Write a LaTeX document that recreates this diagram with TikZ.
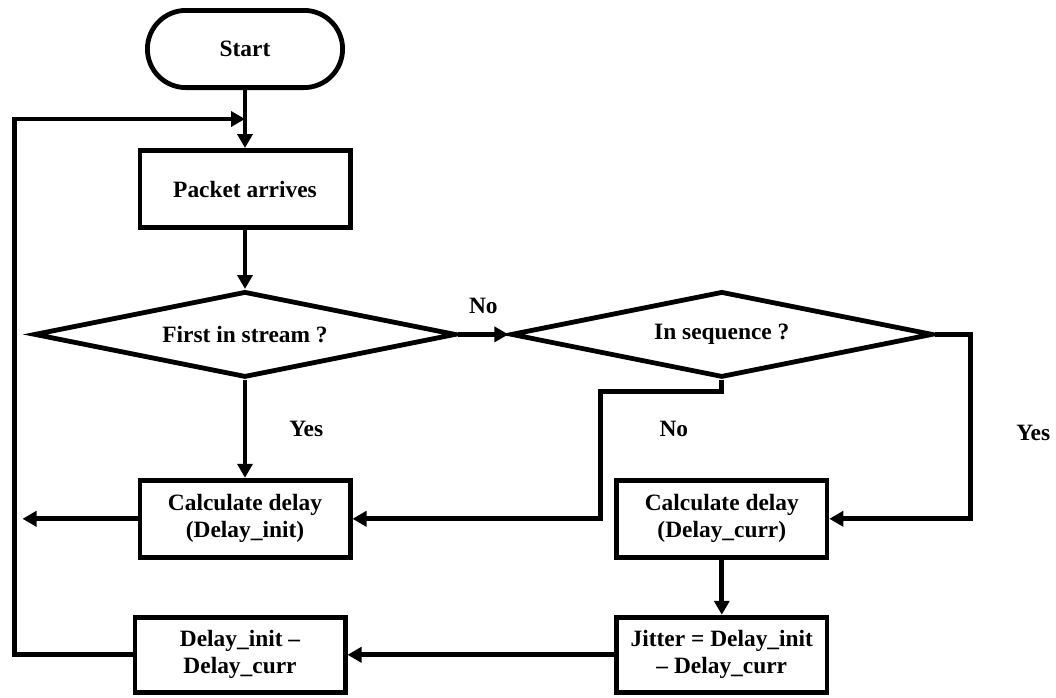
\documentclass[tikz,border=0pt]{standalone}
\usepackage{fontspec}
\setmainfont{Liberation Serif}
\usepackage{tikz}
\usetikzlibrary{arrows.meta,positioning,shapes.geometric,calc}

\begin{document}
\begin{tikzpicture}[font=\bfseries\fontsize{11.7}{13.5}\selectfont, >={Triangle[length=7pt,width=7.5pt]}, line width=2.4pt,
  term/.style={draw, rounded corners=19.3pt, minimum width=97.6pt, minimum height=38.6pt, align=center, inner sep=2pt},
  proc/.style={draw, minimum width=105.1pt, minimum height=38.6pt, align=center, inner sep=2pt},
  dec/.style={draw, diamond, aspect=4.9, minimum width=211pt, minimum height=43pt, align=center, inner sep=0pt},
  lbl/.style={inner sep=1pt}]
\useasboundingbox (0,0) rectangle (528pt,-348.5pt);
\node[term] (start) at (122.5pt,-24.5pt) {Start};
\node[proc, below=29pt of start] (packet) {Packet arrives};
\node[dec, below=29.5pt of packet] (first) {First in stream ?};
\node[dec, right=25pt of first] (inseq) {In sequence ?};
\node[proc, below=49pt of first] (calcinit) {Calculate delay\\(Delay\_init)};
\node[proc, below=49pt of inseq] (calccurr) {Calculate delay\\(Delay\_curr)};
\node[proc, minimum height=37.6pt, below=27.5pt of calcinit, xshift=-2.5pt] (diff) {Delay\_init \textendash\\Delay\_curr};
\node[proc, minimum height=37.6pt, below=27.5pt of calccurr] (jitter) {Jitter = Delay\_init\\\textendash{} Delay\_curr};
\node[lbl] (yesseq) at ($(calccurr.east)+(102pt,43pt)$) {Yes};
\node[lbl] (noseq) at ($(calccurr.north)+(-24pt,24.5pt)$) {No};
\coordinate (join) at ($(start.south)!0.5!(packet.north)$);
\coordinate (nobend) at ([xshift=124pt]calcinit.east);
\coordinate (lp) at ([xshift=-59pt]diff.west);
\coordinate (lout) at ([xshift=-57.5pt]calcinit.west);
\draw[->] (start)--(packet); \draw[->] (packet)--(first); \draw[->] (first.east)--node[lbl, above=8pt]{No}(inseq.west);
\draw[->] (first.south)--node[lbl, right=20pt]{Yes}(calcinit.north); \draw[->] (calccurr)--(jitter); \draw[->] (jitter)--(diff);
\draw[->] (inseq.south)--++(0,-6pt)-|(nobend)--(calcinit.east);
\draw[->] (inseq.east)--++(17.5pt,0)|-(calccurr.east);
\draw[->] (calcinit.west)--(lout);
\draw[->] (diff.west)--(lp)|-(join);
\end{tikzpicture}
\end{document}
